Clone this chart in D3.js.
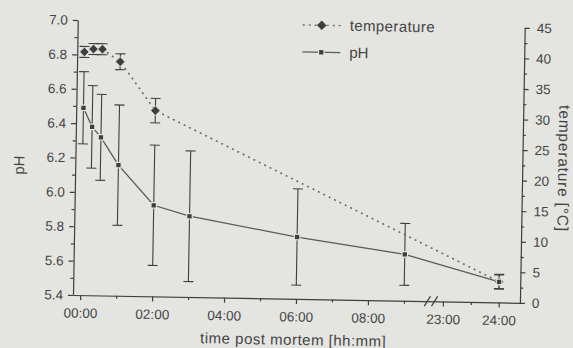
<!DOCTYPE html>
<html>
<head>
<meta charset="utf-8">
<script src="https://cdn.jsdelivr.net/npm/d3@7"></script>
<style>
  body { margin: 0; background: #e4e4e1; }
  svg { display: block; font-family: "Liberation Sans", Arial, sans-serif; }
</style>
</head>
<body>
<script>
// time in hours post mortem
const phTimes = [0, 0.25, 0.5, 1, 2, 3, 6, 9, 24];
const phMean = [6.49, 6.38, 6.32, 6.16, 5.93, 5.87, 5.76, 5.67, 5.52];
const phSd = [0.21, 0.24, 0.25, 0.35, 0.35, 0.38, 0.28, 0.18, 0.04];

const tempTimes = [0, 0.25, 0.5, 1, 2, 24];
const tempMean = [39.8, 40.3, 40.3, 38.3, 30.4, 3.4];
const tempSd = [0.9, 0.9, 0.9, 1.3, 2.0, 1.2];

const timeTicks = [0, 2, 4, 6, 8, 23, 24];
const timeLabels = ["00:00", "02:00", "04:00", "06:00", "08:00", "23:00", "24:00"];
const timeMinor = [1, 3, 5, 7, 9, 23.5];
const phTicks = [5.4, 5.6, 5.8, 6.0, 6.2, 6.4, 6.6, 6.8, 7.0];
const tempTicks = [0, 5, 10, 15, 20, 25, 30, 35, 40, 45];

const W = 573, H = 348;
const pLeft = 73, pRight = 520, pTop = 20, pBottom = 295;
const ink = "#3e3e3e";
const bg = "#e4e4e1";

const svg = d3.select("body").append("svg").attr("width", W).attr("height", H);
svg.append("rect").attr("width", W).attr("height", H).attr("fill", bg);

// the scan is tilted by about one degree
const g = svg.append("g").attr("transform", "rotate(1," + pLeft + "," + pBottom + ")");

// broken time axis: 00:00-09:39 then 22:51-24:23
const x = d3.scaleLinear()
  .domain([-0.2, 9.65, 22.85, 24.38])
  .range([pLeft, 427.4, 434.6, pRight]);
const yPH = d3.scaleLinear().domain([5.4, 7.0]).range([pBottom, pTop]);
const yT = d3.scaleLinear().domain([0, 45]).range([pBottom, pTop]);

function styleAxis(sel) {
  sel.selectAll("path, line").attr("stroke", ink).attr("stroke-width", 1.2);
  sel.selectAll("text").attr("fill", "#444").attr("font-size", 13.5);
}

// left pH axis
g.append("g").attr("transform", "translate(" + pLeft + ",0)")
  .call(d3.axisLeft(yPH).tickValues(phTicks).tickFormat(d3.format(".1f"))
    .tickSize(5).tickPadding(5).tickSizeOuter(0))
  .call(styleAxis);
g.append("g").attr("transform", "translate(" + pLeft + ",0)")
  .call(d3.axisLeft(yPH).tickValues(d3.range(5.5, 7.0, 0.2)).tickFormat("").tickSize(3))
  .call(s => s.select(".domain").remove())
  .call(styleAxis);

// right temperature axis
g.append("g").attr("transform", "translate(" + pRight + ",0)")
  .call(d3.axisRight(yT).tickValues(tempTicks).tickSize(5).tickPadding(7).tickSizeOuter(0))
  .call(styleAxis);
g.append("g").attr("transform", "translate(" + pRight + ",0)")
  .call(d3.axisRight(yT).tickValues(d3.range(2.5, 45, 5)).tickFormat("").tickSize(3))
  .call(s => s.select(".domain").remove())
  .call(styleAxis);

// bottom time axis
g.append("g").attr("transform", "translate(0," + pBottom + ")")
  .call(d3.axisBottom(x).tickValues(timeTicks).tickFormat((d, i) => timeLabels[i])
    .tickSize(5).tickPadding(8).tickSizeOuter(0))
  .call(styleAxis);
g.append("g").attr("transform", "translate(0," + pBottom + ")")
  .call(d3.axisBottom(x).tickValues(timeMinor).tickFormat("").tickSize(3))
  .call(s => s.select(".domain").remove())
  .call(styleAxis);

// axis break marks
[x(9.65), x(22.85)].forEach(bx => {
  g.append("line")
    .attr("x1", bx - 3).attr("y1", pBottom + 5)
    .attr("x2", bx + 3).attr("y2", pBottom - 5)
    .attr("stroke", ink).attr("stroke-width", 1.3);
});

// axis titles
g.append("text").attr("transform", "translate(22,166) rotate(-90)")
  .attr("text-anchor", "middle").attr("font-size", 15).attr("fill", "#444").text("pH");
g.append("text").attr("transform", "translate(556,160) rotate(90)")
  .attr("text-anchor", "middle").attr("font-size", 15.5).attr("letter-spacing", 0.8)
  .attr("fill", "#444").text("temperature [°C]");
g.append("text").attr("x", 294).attr("y", 341)
  .attr("text-anchor", "middle").attr("font-size", 15).attr("letter-spacing", 0.5)
  .attr("fill", "#444").text("time post mortem [hh:mm]");

const phData = phTimes.map((t, i) => ({ t: t, m: phMean[i], sd: phSd[i] }));
const tData = tempTimes.map((t, i) => ({ t: t, m: tempMean[i], sd: tempSd[i] }));

function errorBars(data, y) {
  const eb = g.append("g").attr("stroke", ink).attr("stroke-width", 1.1);
  data.forEach(d => {
    const cx = x(d.t), y1 = y(d.m - d.sd), y2 = y(d.m + d.sd);
    eb.append("line").attr("x1", cx).attr("x2", cx).attr("y1", y1).attr("y2", y2);
    eb.append("line").attr("x1", cx - 5).attr("x2", cx + 5).attr("y1", y1).attr("y2", y1);
    eb.append("line").attr("x1", cx - 5).attr("x2", cx + 5).attr("y1", y2).attr("y2", y2);
  });
}
errorBars(tData, yT);
errorBars(phData, yPH);

// temperature dotted line
g.append("path")
  .attr("d", d3.line().x(d => x(d.t)).y(d => yT(d.m))(tData))
  .attr("fill", "none").attr("stroke", "#6a6a6a").attr("stroke-width", 1.6)
  .attr("stroke-dasharray", "2,4");

// pH solid line
g.append("path")
  .attr("d", d3.line().x(d => x(d.t)).y(d => yPH(d.m))(phData))
  .attr("fill", "none").attr("stroke", "#5a5a5a").attr("stroke-width", 1.3);

// square diamond (rotated square), as in the original plot
const diamond = "M0,-4.8L4.8,0L0,4.8L-4.8,0Z";
const square = d3.symbol(d3.symbolSquare).size(30);

g.selectAll(".tdot").data(tData).enter().append("path")
  .attr("class", "tdot")
  .attr("d", diamond)
  .attr("transform", d => "translate(" + x(d.t) + "," + yT(d.m) + ")")
  .attr("fill", ink).attr("stroke", bg).attr("stroke-width", 0.8);

g.selectAll(".pdot").data(phData).enter().append("path")
  .attr("class", "pdot")
  .attr("d", square)
  .attr("transform", d => "translate(" + x(d.t) + "," + yPH(d.m) + ")")
  .attr("fill", ink).attr("stroke", bg).attr("stroke-width", 1.2);

// legend
const lg = g.append("g").attr("transform", "translate(298,21)");
lg.append("line").attr("x1", 0).attr("x2", 38).attr("y1", 0).attr("y2", 0)
  .attr("stroke", "#6a6a6a").attr("stroke-width", 1.4).attr("stroke-dasharray", "2,4");
lg.append("path").attr("d", diamond).attr("transform", "translate(19,0)").attr("fill", ink);
lg.append("text").attr("x", 47).attr("y", 5).attr("font-size", 15).attr("letter-spacing", 0.4)
  .attr("fill", "#444").text("temperature");

lg.append("line").attr("x1", 0).attr("x2", 38).attr("y1", 27).attr("y2", 27)
  .attr("stroke", "#5a5a5a").attr("stroke-width", 1.3);
lg.append("path").attr("d", square).attr("transform", "translate(19,27)")
  .attr("fill", ink).attr("stroke", bg).attr("stroke-width", 1.2);
lg.append("text").attr("x", 47).attr("y", 32).attr("font-size", 15).attr("fill", "#444").text("pH");
</script>
</body>
</html>
